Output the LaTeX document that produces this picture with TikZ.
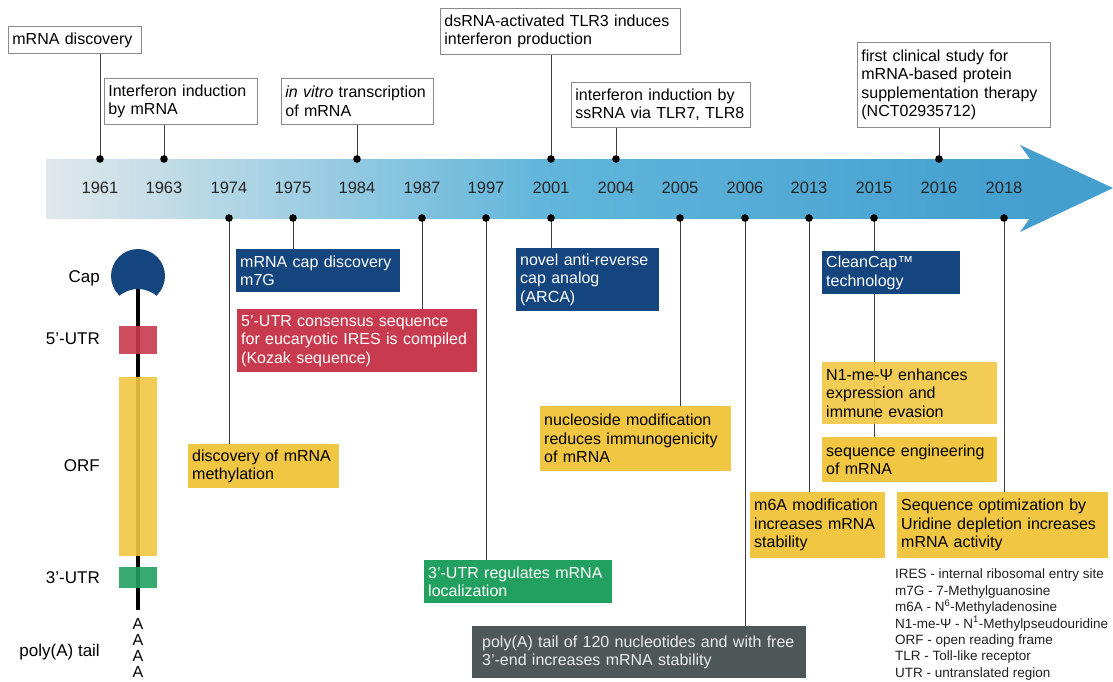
\documentclass[tikz,border=0pt]{standalone}
\usepackage{fontspec}
\setmainfont{Liberation Sans}
\pgfdeclarelayer{bg}
\pgfsetlayers{bg,main}
\definecolor{boxgray}{HTML}{8A8A8A}
\definecolor{stemgray}{HTML}{3C3C3C}
\definecolor{capblue}{HTML}{14457E}
\definecolor{utrred}{HTML}{C83A4E}
\definecolor{orfyellow}{HTML}{F1C643}
\definecolor{utrgreen}{HTML}{22A05F}
\definecolor{tailgray}{HTML}{4F5859}
\definecolor{bandlight}{HTML}{E1E8EB}
\definecolor{bandmid}{HTML}{62B6DB}
\definecolor{banddark}{HTML}{449FCF}
\newcommand{\boxfont}{\fontsize{16}{18.5}\selectfont}

\begin{document}
\begin{tikzpicture}[x=1pt, y=-1pt,
	tbox/.style={draw=boxgray, line width=0.8pt, fill=white, anchor=north west, align=left, inner xsep=4pt, inner ysep=0pt, font=\boxfont},
	ebox/.style={fill=#1, anchor=north west, align=left, inner xsep=4pt, inner ysep=0pt, text=white, font=\boxfont},
	ybox/.style={ebox=orfyellow, text=black},
	stem/.style={draw=stemgray, line width=0.9pt},
	yearlabel/.style={font=\fontsize{16.5}{18}\selectfont, text=black!85},
	partlabel/.style={font=\fontsize{17}{20}\selectfont, anchor=east, inner sep=0pt}]
	\clip (0,0) rectangle (1113,682);
	% time arrow
	\shade[left color=bandlight, right color=banddark, middle color=bandmid] (46,159) rectangle (1032,218);
	\fill[banddark] (1030,159) -- (1020,145) -- (1113,188) -- (1020,232) -- (1030,218) -- cycle;
	% years
	\foreach \yr/\x in {1961/100, 1963/164, 1974/229, 1975/293, 1984/357, 1987/422, 1997/486, 2001/551, 2004/616, 2005/680, 2006/745, 2013/809, 2015/874, 2016/939, 2018/1004} {
		\node[yearlabel] (y\yr) at (\x,188) {\yr};
		\coordinate (t\yr) at (\x,159);
		\coordinate (b\yr) at (\x,218);
	}
	% mRNA
	\begin{scope}
		\clip (138,276) circle (27pt);
		\fill[capblue, even odd rule] (100,240) rectangle (180,320) (138,318) circle (29pt);
	\end{scope}
	\draw[line width=4pt] (138,289) -- (138,610);
	\fill[utrred, opacity=0.9] (119,326) rectangle (157,354);
	\fill[orfyellow, opacity=0.9] (119,377) rectangle (157,556);
	\fill[utrgreen, opacity=0.9] (119,567) rectangle (157,588);
	\foreach \i in {0,...,3}
		\node[font=\fontsize{16}{18}\selectfont, inner sep=0pt] (polyA\i) at (138,{624+16*\i}) {A};
	\node[partlabel] (caplbl) at (100,278) {Cap};
	\node[partlabel] (utr5lbl) at (100,339) {5’-UTR};
	\node[partlabel] (orflbl) at (100,466) {ORF};
	\node[partlabel] (utr3lbl) at (100,578) {3’-UTR};
	\node[partlabel] (taillbl) at (100,652) {poly(A) tail};
	% events above
	\node[tbox, text width=125pt, minimum height=27pt] (disc) at (8,26) {mRNA discovery};
	\node[tbox, text width=145pt, minimum height=46pt] (ifn) at (104,78) {Interferon induction\\by mRNA};
	\node[tbox, text width=144pt, minimum height=46pt] (vitro) at (281,78) {\textit{in vitro} transcription\\of mRNA};
	\node[tbox, text width=232pt, minimum height=46pt] (tlr3) at (440,8) {dsRNA-activated TLR3 induces\\interferon production};
	\node[tbox, text width=171pt, minimum height=45pt] (ssrna) at (571,82) {interferon induction by\\ssRNA via TLR7, TLR8};
	\node[tbox, text width=185pt, minimum height=85pt] (clinic) at (857,42) {first clinical study for\\mRNA-based protein\\supplementation therapy\\(NCT02935712)};
	% events below
	\node[ebox=capblue, text width=156pt, minimum height=43pt] (capdisc) at (236,249) {mRNA cap discovery\\m7G};
	\node[ebox=utrred, text width=232pt, minimum height=63pt] (kozak) at (237,309) {5’-UTR consensus sequence\\for eucaryotic IRES is compiled\\(Kozak sequence)};
	\node[ybox, text width=143pt, minimum height=44pt] (methyl) at (188,444) {discovery of mRNA\\methylation};
	\node[ebox=utrgreen, text width=180pt, minimum height=43pt] (utrloc) at (424,560) {3’-UTR regulates mRNA\\localization};
	\node[ebox=capblue, text width=135pt, minimum height=63pt] (arca) at (516,248) {novel anti-reverse\\cap analog\\(ARCA)};
	\node[ybox, text width=183pt, minimum height=65pt] (nucleo) at (540,406) {nucleoside modification\\reduces immunogenicity\\of mRNA};
	\node[ebox=tailgray, text=white!92!black, inner xsep=10pt, text width=314pt, minimum height=52pt] (tail) at (472,626) {poly(A) tail of 120 nucleotides and with free\\3’-end increases mRNA stability};
	\node[ybox, text width=127pt, minimum height=66pt] (m6a) at (750,492) {m6A modification\\increases mRNA\\stability};
	\node[ebox=capblue, text width=130pt, minimum height=43pt] (cleancap) at (822,251) {CleanCap™\\technology};
	\node[ybox, fill opacity=0.9, text opacity=1, text width=167pt, minimum height=62pt] (pseudo) at (822,362) {N1-me-Ψ enhances\\expression and\\immune evasion};
	\node[ybox, text width=167pt, minimum height=45pt] (seqeng) at (822,437) {sequence engineering\\of mRNA};
	\node[ybox, text width=203pt, minimum height=66pt] (uridine) at (897,492) {Sequence optimization by\\Uridine depletion increases\\mRNA activity};
	% connectors
	\begin{pgfonlayer}{bg}
		\draw[stem] (t1961) -- (disc.south -| t1961);
		\draw[stem] (t1963) -- (ifn.south -| t1963);
		\draw[stem] (t1984) -- (vitro.south -| t1984);
		\draw[stem] (t2001) -- (tlr3.south -| t2001);
		\draw[stem] (t2004) -- (ssrna.south -| t2004);
		\draw[stem] (t2016) -- (clinic.south -| t2016);
		\draw[stem] (b1974) -- (methyl.north -| b1974);
		\draw[stem] (b1975) -- (capdisc.north -| b1975);
		\draw[stem] (b1987) -- (kozak.north -| b1987);
		\draw[stem] (b1997) -- (utrloc.north -| b1997);
		\draw[stem] (b2001) -- (arca.north -| b2001);
		\draw[stem] (b2005) -- (nucleo.north -| b2005);
		\draw[stem] (b2006) -- (tail.north -| b2006);
		\draw[stem] (b2013) -- (m6a.north -| b2013);
		\draw[stem] (b2015) -- (cleancap.north -| b2015);
		\draw[stem] (cleancap.south -| b2015) -- (seqeng.north -| b2015);
		\draw[stem] (b2018) -- (uridine.north -| b2018);
	\end{pgfonlayer}
	\foreach \p in {t1961, t1963, t1984, t2001, t2004, t2016, b1974, b1975, b1987, b1997, b2001, b2005, b2006, b2013, b2015, b2018}
		\fill[black] (\p) circle (3.8pt);
	% abbreviations
	\node[anchor=north west, align=left, inner sep=0pt, text=black!88, font=\fontsize{13.5}{16.4}\selectfont] (abbr) at (895,569) {IRES - internal ribosomal entry site\\m7G - 7-Methylguanosine\\m6A - N\textsuperscript{6}-Methyladenosine\\N1-me-Ψ - N\textsuperscript{1}-Methylpseudouridine\\ORF - open reading frame\\TLR - Toll-like receptor\\UTR - untranslated region};
\end{tikzpicture}
\end{document}
